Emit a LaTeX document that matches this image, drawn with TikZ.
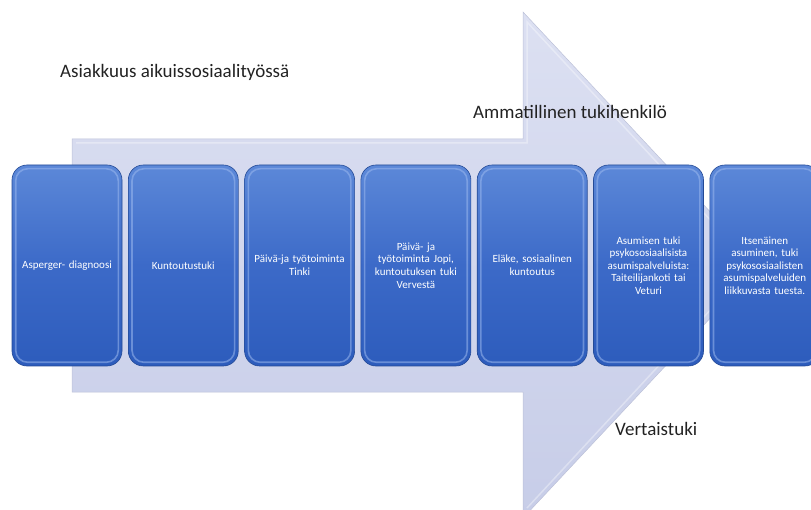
\documentclass[tikz,border=0pt]{standalone}
\usepackage{fontspec}
\setmainfont{Carlito}
\definecolor{arrowtop}{HTML}{DCE0F2}
\definecolor{arrowbot}{HTML}{C7CDE8}
\definecolor{boxtop}{HTML}{5C88D8}
\definecolor{boxmid}{HTML}{3C6AC8}
\definecolor{boxbot}{HTML}{2D5CBC}
\definecolor{bevel}{HTML}{9BB8EE}
\definecolor{labelc}{HTML}{222222}
\tikzset{
  stepbox/.style={rectangle, rounded corners=15pt, minimum width=110pt, minimum height=201pt,
    top color=boxtop, bottom color=boxbot, middle color=boxmid,
    draw=boxbot!80!black, line width=0.6pt,
    text=white, align=center, text width=104pt, inner sep=0pt,
    font=\fontsize{11}{12.6}\selectfont},
  bigtext/.style={anchor=west, inner sep=0pt, text=labelc, font=\fontsize{19}{22}\selectfont},
  bevelline/.style={draw=bevel, line width=1.6pt, rounded corners=12pt, opacity=0.55}
}
\begin{document}
\begin{tikzpicture}[x=1pt,y=-1pt]
\useasboundingbox (0,0) rectangle (811,510);
\begin{scope}
\clip (0,0) rectangle (811,510);
% big arrow
\path[top color=arrowtop, bottom color=arrowbot, draw=arrowbot!85!gray, line width=0.5pt]
  (72,139) -- (523,139) -- (523,12) -- (760,265) -- (523,518) -- (523,392) -- (72,392) -- cycle;
\draw[white, opacity=0.35, line width=1.5pt]
  (76,143) -- (527,143) -- (527,22) -- (752,265) -- (527,508);

% boxes
\node[stepbox] (b1) at (67,265.5) {Asperger- diagnoosi};
\node[stepbox] (b2) at (183.3,265.5) {Kuntoutustuki};
\node[stepbox] (b3) at (299.6,265.5) {Päivä-ja työtoiminta\\Tinki};
\node[stepbox] (b4) at (415.9,265.5) {Päivä- ja\\työtoiminta Jopi,\\kuntoutuksen tuki\\Vervestä};
\node[stepbox] (b5) at (532.2,265.5) {Eläke, sosiaalinen\\kuntoutus};
\node[stepbox] (b6) at (648.5,265.5) {Asumisen tuki\\psykososiaalisista\\asumispalveluista:\\Taiteilijankoti tai\\Veturi};
\node[stepbox] (b7) at (764.8,265.5) {Itsenäinen\\asuminen, tuki\\psykososiaalisten\\asumispalveluiden\\liikkuvasta tuesta.};
\foreach \b in {b1,b2,b3,b4,b5,b6,b7}{
  \draw[bevelline] ([shift={(4,4)}]\b.north west) rectangle ([shift={(-4,-4)}]\b.south east);
}
\end{scope}

% labels
\node[bigtext] (t1) at (60,72) {Asiakkuus aikuissosiaalityössä};
\node[bigtext] (t2) at (473,112) {Ammatillinen tukihenkilö};
\node[bigtext] (t3) at (615,429) {Vertaistuki};
\end{tikzpicture}
\end{document}
